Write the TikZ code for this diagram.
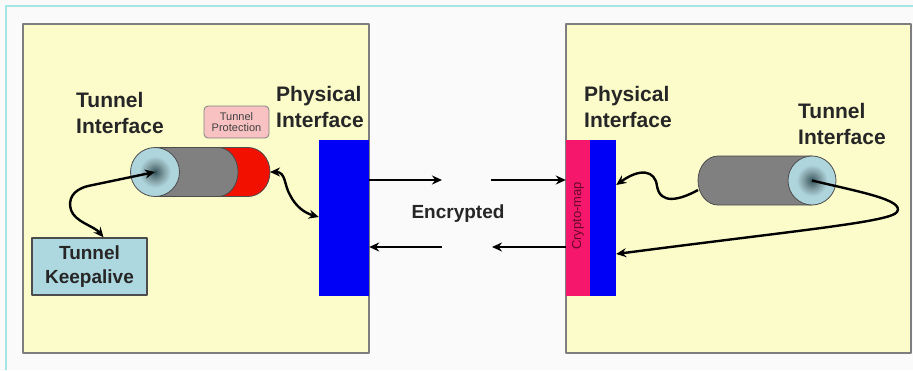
\documentclass[tikz,border=0pt]{standalone}
\usepackage{fontspec}
\setmainfont{Liberation Sans}
\usetikzlibrary{arrows.meta}
\definecolor{pagewhite}{HTML}{FAFAFA}
\definecolor{framecyan}{HTML}{A4E6E6}
\definecolor{hostyellow}{HTML}{FCFCCB}
\definecolor{hostedge}{HTML}{7E7E7E}
\definecolor{physblue}{HTML}{0000F6}
\definecolor{cryptopink}{HTML}{F4176B}
\definecolor{cryptotext}{HTML}{6A0A2A}
\definecolor{tunnelgray}{HTML}{808080}
\definecolor{tunnelred}{HTML}{F21000}
\definecolor{capblue}{HTML}{AED4DC}
\definecolor{capcore}{HTML}{2E4A50}
\definecolor{keepblue}{HTML}{ADD8E0}
\definecolor{protpink}{HTML}{F8C2C2}
% Open tunnel end: dark core fading into pale blue.
\pgfdeclareradialshading{capglow}{\pgfpoint{0bp}{0bp}}{%
  color(0bp)=(capcore); color(2bp)=(capcore!80!capblue);
  color(9bp)=(capblue!75!black); color(16bp)=(capblue); color(50bp)=(capblue)}

\begin{document}
\begin{tikzpicture}[
  x=1pt,
  y=-1pt,
  line join=round,
  host/.style={draw=hostedge,line width=1.6pt,fill=hostyellow},
  iface/.style={draw=none,inner sep=0,minimum height=156pt},
  caption/.style={anchor=north west,inner sep=0,align=left,
    font=\fontsize{21}{26}\selectfont\bfseries,text=black!85},
  shell/.style={draw=black!70,line width=0.8pt},
  link/.style={line width=2.4pt},
  oneway/.style={link,-{Stealth[length=10pt,width=9pt]}},
  twoway/.style={link,{Stealth[length=10pt,width=9pt]}-{Stealth[length=10pt,width=9pt]}}
]
  \useasboundingbox (0,0) rectangle (913,370);
  \fill[pagewhite] (0,0) rectangle (913,370);
  \draw[framecyan,line width=2pt] (6,370) -- (6,6) -- (913,6);

  % The two routers.
  \draw[host] (23,24) rectangle (369,353);
  \draw[host] (566,24) rectangle (911,353);

  % Physical interfaces; the right one carries the crypto map.
  \node[iface,fill=physblue,minimum width=50pt] (physL) at (344,218) {};
  \node[iface,fill=cryptopink,minimum width=24pt] (crypto) at (578,218) {};
  \node[iface,fill=physblue,minimum width=26pt] (physR) at (603,218) {};
  \node[rotate=90,inner sep=0,text=cryptotext,font=\fontsize{13}{15}\selectfont]
    (cryptolbl) at ([yshift=2pt]crypto.center) {Crypto-map};

  % Left tunnel: red protection end, gray body, open cap.
  \path[shell,fill=tunnelred] (210,147.5) -- (248,147.5)
    arc[start angle=-90,end angle=90,x radius=22,y radius=24.5] -- (210,196.5) -- cycle;
  \path[shell,fill=tunnelgray] (155,147.5) -- (218,147.5)
    arc[start angle=-90,end angle=90,x radius=20,y radius=24.5] -- (155,196.5) -- cycle;
  \coordinate (capL) at (155,172);
  \shade[shading=capglow] (capL) ellipse[x radius=24.5,y radius=24.5];
  \draw[shell] (capL) ellipse[x radius=24.5,y radius=24.5];
  \coordinate (protEnd) at (270,172);

  % Right tunnel, cap facing right.
  \path[shell,fill=tunnelgray] (812,156) -- (718,156)
    arc[start angle=-90,end angle=-270,x radius=20,y radius=24.5] -- (812,205) -- cycle;
  \coordinate (capR) at (812,180.5);
  \shade[shading=capglow] (capR) ellipse[x radius=24,y radius=24.5];
  \draw[shell] (capR) ellipse[x radius=24,y radius=24.5];
  \coordinate (tunEnd) at (698,190);

  % Labels.
  \node[caption] (tunLlbl) at (76,92) {Tunnel\\Interface};
  \node[caption] (physLlbl) at (276,86) {Physical\\Interface};
  \node[caption] (physRlbl) at (584,86) {Physical\\Interface};
  \node[caption] (tunRlbl) at (798,103) {Tunnel\\Interface};
  \node[draw=black!50,line width=0.8pt,fill=protpink,rounded corners=4pt,
    minimum width=65pt,minimum height=32pt,inner sep=0,align=center,
    font=\fontsize{11}{11.5}\selectfont,text=black!75] (prot) at (236.5,122) {Tunnel\\Protection};
  \node[draw=black!70,line width=1.4pt,fill=keepblue,minimum width=115pt,
    minimum height=57pt,inner sep=0,align=center,
    font=\fontsize{19}{24}\selectfont\bfseries,text=black!85] (keep) at (89.5,266.5) {Tunnel\\Keepalive};
  \node[font=\fontsize{19}{22}\selectfont\bfseries,text=black!85,inner sep=0] (enc) at (458,214) {Encrypted};

  % Encrypted traffic between the routers.
  \coordinate (txL) at (442,180);
  \coordinate (rxL) at (442,247);
  \coordinate (txR) at (491,180);
  \coordinate (rxR) at (492,247);
  \draw[oneway] (physL.east |- txL) -- (txL);
  \draw[oneway] (rxL) -- (physL.east |- rxL);
  \draw[oneway] (txR) -- (crypto.west |- txR);
  \draw[oneway] (crypto.west |- rxR) -- (rxR);

  % Control paths inside each router.
  \draw[twoway] (capL) -- (88,186) .. controls (72,190) and (68,200) .. (71,210)
    .. controls (75,222) and (94,226) .. ([xshift=14pt]keep.north);
  \draw[twoway] (protEnd) .. controls (286,172) and (284,185) .. (290,195)
    .. controls (296,207) and (305,213) .. ([yshift=1pt]physL.west);
  \draw[oneway] (tunEnd) .. controls (680,200) and (660,205) .. (657,186)
    .. controls (655,170) and (640,168) .. ([yshift=33pt]physR.east);
  \draw[oneway] (capR) .. controls (860,192) and (905,200) .. (897,212)
    .. controls (890,222) and (800,230) .. ([yshift=-36pt]physR.east);
\end{tikzpicture}
\end{document}
